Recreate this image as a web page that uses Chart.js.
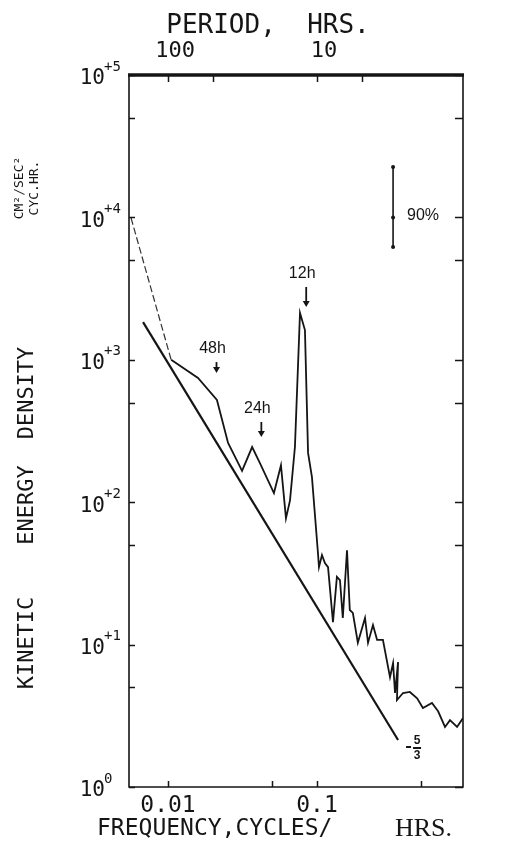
<!DOCTYPE html>
<html>
<head>
<meta charset="utf-8">
<script src="https://cdn.jsdelivr.net/npm/chart.js@4.4.1/dist/chart.umd.min.js"></script>
<style>
  html, body { margin: 0; padding: 0; background: #fff; }
  canvas { display: block; }
</style>
</head>
<body>
<canvas id="spectrum" width="509" height="846"></canvas>
<script>
// Kinetic energy density spectrum (cm^2/sec^2 per cycle/hr) against frequency (cycles/hr)

// low-frequency end, drawn dashed
const freqLow = [0.00565, 0.0105];
const energyLow = [9900, 1000];

// main spectrum
const freq = [0.0105, 0.0159, 0.0213, 0.0253, 0.0282, 0.0314, 0.0367, 0.0414, 0.0514, 0.0573,
              0.0619, 0.0659, 0.0711, 0.0769, 0.083, 0.0871, 0.0925, 0.1015, 0.1031, 0.108,
              0.113, 0.1186, 0.128, 0.136, 0.1426, 0.149, 0.159, 0.166, 0.174, 0.188,
              0.21, 0.22, 0.2375, 0.253, 0.277, 0.309, 0.324, 0.334, 0.35, 0.344,
              0.378, 0.42, 0.47, 0.514, 0.591, 0.65, 0.723, 0.781, 0.871, 0.955];
const energy = [1000, 745, 522, 261, 208, 166, 244, 188, 116, 182,
                77, 103, 244, 2135, 1618, 222, 150, 44, 35, 42.6,
                37.4, 35, 14.4, 29.9, 28.4, 15.4, 46, 17.5, 16.7, 10.3,
                15.4, 10.3, 13.7, 10.8, 10.8, 5.9, 7.4, 4.57, 7.55, 4.08,
                4.57, 4.65, 4.2, 3.59, 3.89, 3.4, 2.64, 2.95, 2.64, 3.05];

// reference line of slope -5/3
const slopeFreq = [0.0068, 0.35];
const slopeEnergy = [1840, 2.14];

// 90% confidence bar
const confFreq = 0.324;
const confRange = [6190, 10000, 22600];

// marked tidal / inertial periods (hours)
const markPeriods = [48, 24, 12];
const markTexts = ['48h', '24h', '12h'];
const markTipEnergy = [807, 287, 2350];

// axis ticks
const freqTicks = [0.01, 0.05, 0.1, 0.5];
const freqTickLabels = ['0.01', '0.1'];
const periodTicks = [100, 50, 10, 5];
const periodTickLabels = ['100', '10'];
const energyDecades = [1, 10, 100, 1000, 10000, 100000];
const energyHalves = [5, 50, 500, 5000, 50000];
const energyExponents = ['0', '+1', '+2', '+3', '+4', '+5'];

const INK = '#151515';
const MONO = '"DejaVu Sans Mono", "Liberation Mono", monospace';

function pts(xs, ys) { return xs.map((x, i) => ({ x: x, y: ys[i] })); }

const framePlugin = {
  id: 'frame',
  afterDraw(chart) {
    const ctx = chart.ctx;
    const a = chart.chartArea;
    const xs = chart.scales.x, ys = chart.scales.y;
    ctx.save();
    ctx.strokeStyle = INK;
    ctx.fillStyle = INK;
    ctx.lineCap = 'butt';

    // frame
    ctx.lineWidth = 1.6;
    ctx.beginPath();
    ctx.moveTo(a.left, a.top); ctx.lineTo(a.left, a.bottom);
    ctx.lineTo(a.right, a.bottom); ctx.lineTo(a.right, a.top);
    ctx.stroke();
    ctx.lineWidth = 3.5;
    ctx.beginPath();
    ctx.moveTo(a.left - 1, a.top); ctx.lineTo(a.right + 1, a.top);
    ctx.stroke();

    // inward ticks
    ctx.lineWidth = 1.5;
    ctx.beginPath();
    energyDecades.concat(energyHalves).forEach(v => {
      const y = Math.round(ys.getPixelForValue(v)) + 0.5;
      ctx.moveTo(a.left, y); ctx.lineTo(a.left + 6, y);
      ctx.moveTo(a.right, y); ctx.lineTo(a.right - 8, y);
    });
    freqTicks.forEach(v => {
      const x = Math.round(xs.getPixelForValue(v)) + 0.5;
      ctx.moveTo(x, a.bottom); ctx.lineTo(x, a.bottom - 6);
    });
    periodTicks.forEach(p => {
      const x = Math.round(xs.getPixelForValue(1 / p)) + 0.5;
      ctx.moveTo(x, a.top); ctx.lineTo(x, a.top + 7);
    });
    ctx.stroke();

    // y tick labels: 10 with superscript exponent
    energyDecades.forEach((v, i) => {
      const y = ys.getPixelForValue(v);
      ctx.font = '21px ' + MONO;
      ctx.textAlign = 'right';
      ctx.textBaseline = 'middle';
      ctx.fillText('10', 105, y + 4);
      ctx.font = '14px ' + MONO;
      ctx.textAlign = 'left';
      ctx.fillText(energyExponents[i], 104, y - 8);
    });

    // bottom tick labels
    ctx.font = '23px ' + MONO;
    ctx.textAlign = 'center';
    ctx.textBaseline = 'middle';
    freqTickLabels.forEach(t => {
      const x = xs.getPixelForValue(parseFloat(t));
      ctx.fillText(t, x, a.bottom + 19);
    });

    // top tick labels (period, hours)
    ctx.font = '22px ' + MONO;
    periodTickLabels.forEach(t => {
      const x = xs.getPixelForValue(1 / parseFloat(t));
      ctx.fillText(t, x + 7, 51);
    });

    // axis titles
    ctx.font = '26px ' + MONO;
    ctx.fillText('PERIOD,  HRS.', 268, 26);

    ctx.font = '23px ' + MONO;
    ctx.textAlign = 'left';
    ctx.fillText('FREQUENCY,CYCLES/', 97, 829);
    ctx.font = '26px "Liberation Serif", "DejaVu Serif", serif';
    ctx.fillText('HRS.', 395, 829);

    // vertical title
    ctx.save();
    ctx.translate(27, 0);
    ctx.rotate(-Math.PI / 2);
    ctx.textAlign = 'center';
    ctx.textBaseline = 'middle';
    ctx.font = '22px ' + MONO;
    ctx.fillText('KINETIC', -643, 0);
    ctx.fillText('ENERGY', -505, 0);
    ctx.fillText('DENSITY', -393, 0);
    ctx.font = '13px ' + MONO;
    ctx.fillText('CM\u00B2/SEC\u00B2', -188, -7);
    ctx.fillText('CYC.HR.', -188, 8);
    ctx.restore();

    // period markers with arrows
    ctx.textAlign = 'center';
    ctx.textBaseline = 'middle';
    ctx.font = '16px "Liberation Sans", "DejaVu Sans", sans-serif';
    const arrowLen = [11, 15, 20];
    markPeriods.forEach((p, i) => {
      const x = xs.getPixelForValue(1 / p) + 1;
      const tip = ys.getPixelForValue(markTipEnergy[i]);
      const top = tip - arrowLen[i];
      ctx.lineWidth = 1.8;
      ctx.beginPath();
      ctx.moveTo(x, top); ctx.lineTo(x, tip - 4);
      ctx.stroke();
      ctx.beginPath();
      ctx.moveTo(x - 3.5, tip - 6); ctx.lineTo(x + 3.5, tip - 6); ctx.lineTo(x, tip);
      ctx.closePath(); ctx.fill();
      ctx.fillText(markTexts[i], x - 4, top - 13);
    });

    // 90% confidence bar
    const cx = xs.getPixelForValue(confFreq);
    const cb = ys.getPixelForValue(confRange[0]);
    const cm = ys.getPixelForValue(confRange[1]);
    const ct = ys.getPixelForValue(confRange[2]);
    ctx.lineWidth = 1.6;
    ctx.beginPath();
    ctx.moveTo(cx, ct); ctx.lineTo(cx, cb);
    ctx.stroke();
    [ct, cm, cb].forEach(y => {
      ctx.beginPath(); ctx.arc(cx, y, 2, 0, Math.PI * 2); ctx.fill();
    });
    ctx.font = '16px "Liberation Sans", "DejaVu Sans", sans-serif';
    ctx.textAlign = 'left';
    ctx.fillText('90%', cx + 14, cm - 2);

    // -5/3 slope label
    const sx = xs.getPixelForValue(slopeFreq[1]);
    const sy = ys.getPixelForValue(slopeEnergy[1]);
    ctx.lineWidth = 2;
    ctx.beginPath();
    ctx.moveTo(sx + 8, sy + 7); ctx.lineTo(sx + 13, sy + 7);
    ctx.moveTo(sx + 15, sy + 8); ctx.lineTo(sx + 23, sy + 8);
    ctx.stroke();
    ctx.font = 'bold 12px "Liberation Sans", "DejaVu Sans", sans-serif';
    ctx.textAlign = 'center';
    ctx.fillText('5', sx + 19, sy + 1);
    ctx.fillText('3', sx + 19, sy + 16);

    ctx.restore();
  }
};

new Chart(document.getElementById('spectrum').getContext('2d'), {
  type: 'scatter',
  data: {
    datasets: [
      { data: pts(freqLow, energyLow), showLine: true, borderColor: '#333', borderWidth: 1.2,
        borderDash: [7, 3], pointRadius: 0, tension: 0 },
      { data: pts(freq, energy), showLine: true, borderColor: INK, borderWidth: 1.8,
        pointRadius: 0, tension: 0 },
      { data: pts(slopeFreq, slopeEnergy), showLine: true, borderColor: INK, borderWidth: 2.2,
        pointRadius: 0, tension: 0 }
    ]
  },
  options: {
    responsive: false,
    animation: false,
    devicePixelRatio: 1,
    layout: { padding: { left: 129, right: 46, top: 75, bottom: 59 } },
    plugins: { legend: { display: false }, tooltip: { enabled: false } },
    scales: {
      x: { type: 'logarithmic', min: 0.005473, max: 0.9548, display: false },
      y: { type: 'logarithmic', min: 1, max: 100000, display: false }
    }
  },
  plugins: [framePlugin]
});
</script>
</body>
</html>
